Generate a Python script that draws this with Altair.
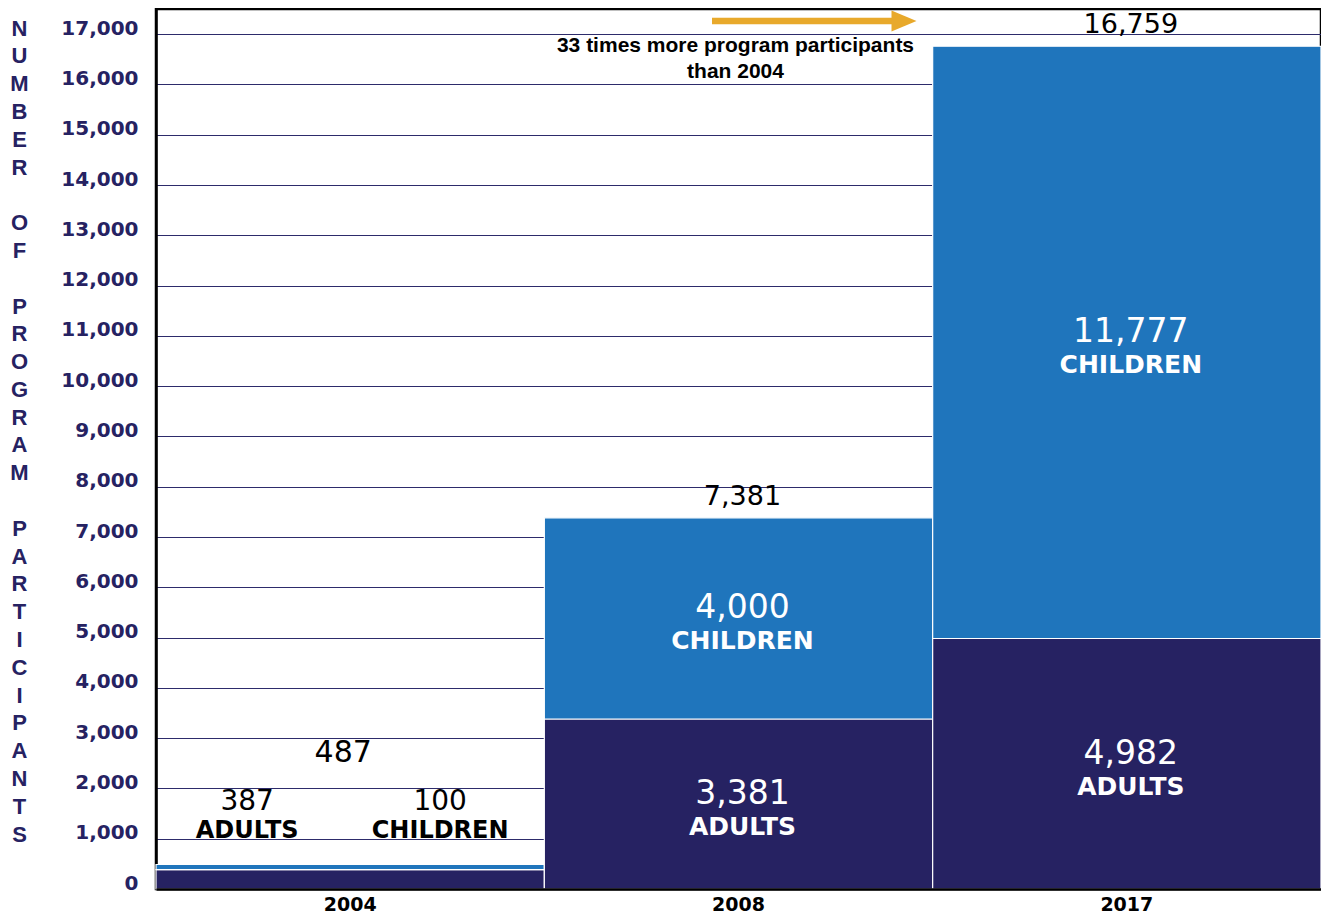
import altair as alt
import pandas as pd

# ---------------- data ----------------
years = ["2004", "2008", "2017"]
adults = [387, 3381, 4982]
children = [100, 4000, 11777]
totals = [a + c for a, c in zip(adults, children)]
grid_values = list(range(0, 17500, 500))
SP = "\u200b"
axis_title = ["N", "U", "M", "B", "E", "R", SP,
              "O", "F", SP,
              "P", "R", "O", "G", "R", "A", "M", SP,
              "P", "A", "R", "T", "I", "C", "I", "P", "A", "N", "T", "S"]
note_text = "33 times more program participants\nthan 2004"

NAVY = "#262262"
BLUE = "#1f75bc"
ORANGE = "#e8a92b"
GRID = "#2d2b6b"

rows = []
for y, a, c in zip(years, adults, children):
    rows.append({"year": y, "group": "ADULTS", "value": a, "order": 0})
    rows.append({"year": y, "group": "CHILDREN", "value": c, "order": 1})
bars_df = pd.DataFrame(rows)

# labels inside the big bars (2008, 2017)
seg_rows_num, seg_rows_word, tot_rows = [], [], []
for y, a, c, t in zip(years[1:], adults[1:], children[1:], totals[1:]):
    seg_rows_num.append({"year": y, "value": a / 2, "label": f"{a:,}"})
    seg_rows_num.append({"year": y, "value": a + c / 2, "label": f"{c:,}"})
    seg_rows_word.append({"year": y, "value": a / 2, "label": "ADULTS"})
    seg_rows_word.append({"year": y, "value": a + c / 2, "label": "CHILDREN"})
    tot_rows.append({"year": y, "value": t, "label": f"{t:,}"})
seg_num_df = pd.DataFrame(seg_rows_num)
seg_word_df = pd.DataFrame(seg_rows_word)
tot_df = pd.DataFrame(tot_rows)

# labels above the thin 2004 bar
y0, a0, c0, t0 = years[0], adults[0], children[0], totals[0]
df04_total = pd.DataFrame([{"year": y0, "value": t0, "label": f"{t0:,}"}])
df04_an = pd.DataFrame([{"year": y0, "value": t0, "label": f"{a0:,}"}])
df04_aw = pd.DataFrame([{"year": y0, "value": t0, "label": "ADULTS"}])
df04_cn = pd.DataFrame([{"year": y0, "value": t0, "label": f"{c0:,}"}])
df04_cw = pd.DataFrame([{"year": y0, "value": t0, "label": "CHILDREN"}])

# ---------------- chart ----------------
x_enc = alt.X(
    "year:N",
    scale=alt.Scale(domain=years, paddingInner=0, paddingOuter=0),
    axis=alt.Axis(title=None, labelAngle=0, ticks=False, tickSize=0,
                  domainColor="black", domainWidth=2.5,
                  labelFont="DejaVu Sans", labelFontWeight="bold",
                  labelFontSize=19, labelColor="black", labelPadding=6,
                  zindex=1),
)

y_axis = alt.Axis(
    values=grid_values,
    labelExpr="datum.value % 1000 == 0 ? format(datum.value, ',') : ''",
    labelOverlap=False,
    grid=True, gridColor=GRID, gridWidth=1,
    ticks=False, tickSize=0,
    domain=True, domainColor="black", domainWidth=2.5,
    labelFont="DejaVu Sans", labelFontWeight="bold", labelFontSize=20,
    labelColor=NAVY, labelPadding=18, labelBaseline="alphabetic",
    title=axis_title, titleAngle=0, titleAlign="center", titleBaseline="top",
    titleX=-137, titleY=9, titleFont="Liberation Sans", titleFontSize=22,
    titleFontWeight="bold", titleColor=NAVY, titleLineHeight=27.8,
)

bars = alt.Chart(bars_df).mark_bar(stroke="white", strokeWidth=1.2).encode(
    x=x_enc,
    y=alt.Y("value:Q", stack="zero",
            scale=alt.Scale(domain=[0, 17500], nice=False), axis=y_axis),
    color=alt.Color("group:N",
                    scale=alt.Scale(domain=["ADULTS", "CHILDREN"], range=[NAVY, BLUE]),
                    legend=None),
    order=alt.Order("order:Q"),
)


def text_layer(df, dx, dy, size, color, bold=False, font="DejaVu Sans"):
    return alt.Chart(df).mark_text(
        dx=dx, dy=dy, fontSize=size, color=color, font=font,
        fontWeight="bold" if bold else "normal",
        align="center", baseline="middle",
    ).encode(x=alt.X("year:N"), y=alt.Y("value:Q"), text="label:N")


layers = [
    bars,
    text_layer(seg_num_df, 4, -10, 33, "white"),
    text_layer(seg_word_df, 4, 23, 25, "white", bold=True),
    text_layer(tot_df, 4, -21, 27, "black"),
    text_layer(df04_total, -7, -112, 30, "black"),
    text_layer(df04_an, -103, -63, 28, "black"),
    text_layer(df04_aw, -103, -34, 24, "black", bold=True),
    text_layer(df04_cn, 90, -63, 28, "black"),
    text_layer(df04_cw, 90, -34, 24, "black", bold=True),
]

note = alt.Chart(pd.DataFrame({"year": [years[1]]})).mark_text(
    text=note_text, lineBreak="\n", lineHeight=26, dx=-3,
    font="Liberation Sans", fontWeight="bold", fontSize=21, color="black",
    align="center", baseline="middle",
).encode(x=alt.X("year:N"), y=alt.value(37))

arrow_line = alt.Chart(pd.DataFrame({"k": [0]})).mark_rule(
    color=ORANGE, strokeWidth=6.5
).encode(x=alt.value(556), x2=alt.value(740), y=alt.value(12))

arrow_head = alt.Chart(pd.DataFrame({"k": [0]})).mark_point(
    shape="M-1,-0.84L1,0L-1,0.84Z", filled=True, size=625,
    color=ORANGE, opacity=1, strokeWidth=0
).encode(x=alt.value(748), y=alt.value(12))

chart = alt.layer(*layers, note, arrow_line, arrow_head).properties(
    width=1165, height=880,
    autosize=alt.AutoSizeParams(type="none"),
    padding={"left": 148, "top": 1, "right": 0, "bottom": 25},
).configure_view(stroke="black", strokeWidth=2.5)

chart.save("out.html", embed_options={"renderer": "svg", "actions": False})
